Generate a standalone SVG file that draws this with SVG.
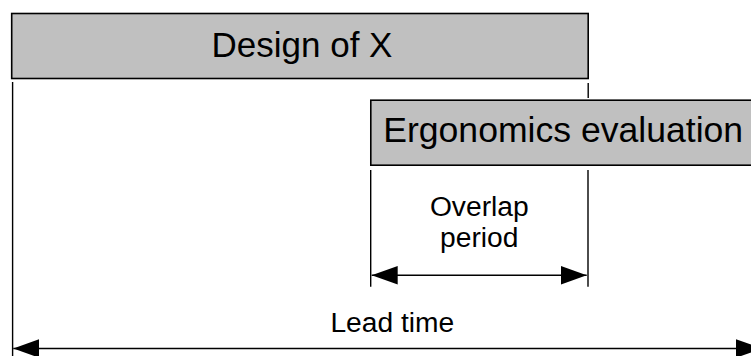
<svg xmlns="http://www.w3.org/2000/svg" width="751" height="356" viewBox="0 0 751 356">
  <style>
    .box { fill: #c0c0c0; stroke: #000; stroke-width: 1.6; }
    .lbl { font-family: "Liberation Sans", Arial, sans-serif; fill: #000; }
    .guide { stroke: #000; stroke-width: 1.4; fill: none; }
    .dim { stroke: #000; stroke-width: 1.6; fill: none; marker-start: url(#head); marker-end: url(#head); }
  </style>
  <defs>
    <marker id="head" markerUnits="userSpaceOnUse" markerWidth="27" markerHeight="19" refX="26" refY="9.3" orient="auto-start-reverse">
      <path d="M0,0 L26,9.3 L0,18.6 Z" fill="#000"/>
    </marker>
  </defs>
  <rect width="751" height="356" fill="#fff"/>

  <g id="design">
    <rect class="box" x="11.7" y="13.5" width="576.5" height="65"/>
    <text class="lbl" x="302" y="56.7" font-size="35" text-anchor="middle">Design of X</text>
  </g>

  <g id="ergonomics">
    <rect class="box" x="370.8" y="100.2" width="400" height="65"/>
    <text class="lbl" x="383.2" y="142.3" font-size="35.6">Ergonomics evaluation</text>
  </g>

  <g id="overlap">
    <text class="lbl" x="479.3" y="215.5" font-size="28.2" text-anchor="middle">Overlap</text>
    <text class="lbl" x="479.3" y="246.7" font-size="28.2" text-anchor="middle">period</text>
  </g>

  <g id="leadtime">
    <text class="lbl" x="392.3" y="332.3" font-size="28.2" text-anchor="middle">Lead time</text>
  </g>

  <g id="connectors">
    <!-- extension lines -->
    <line class="guide" x1="12.6" y1="82" x2="12.6" y2="356"/>
    <line class="guide" x1="588.2" y1="83" x2="588.2" y2="98"/>
    <line class="guide" x1="370.7" y1="170" x2="370.7" y2="286.7"/>
    <line class="guide" x1="588" y1="170" x2="588" y2="286.7"/>
    <!-- dimension arrows -->
    <line class="dim" x1="371.7" y1="275.3" x2="586.7" y2="275.3"/>
    <line class="dim" x1="13.3" y1="348.5" x2="762" y2="348.5"/>
  </g>
</svg>
